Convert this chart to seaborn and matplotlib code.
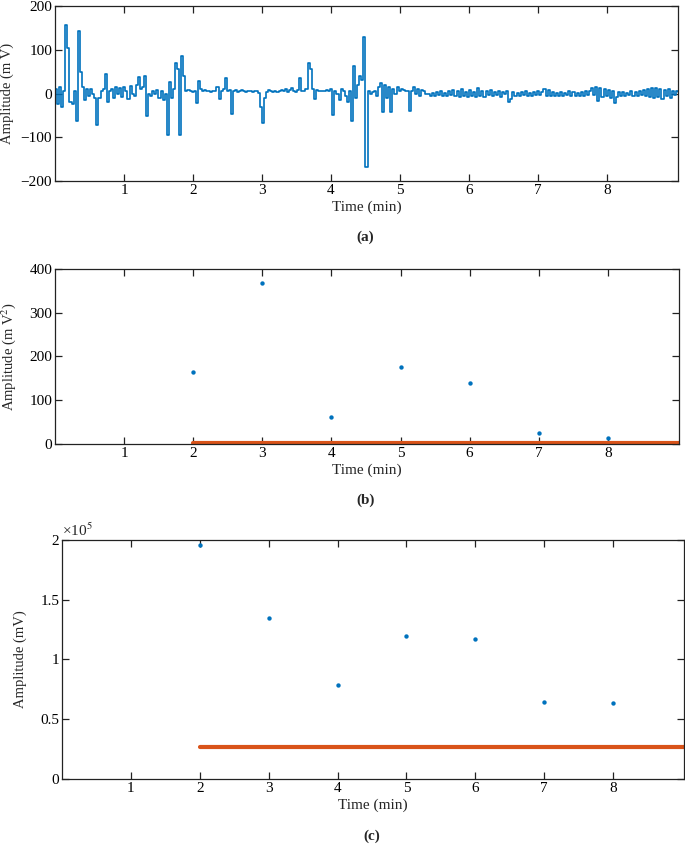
import numpy as np
import matplotlib
matplotlib.use('Agg')
import matplotlib.pyplot as plt
from matplotlib.ticker import FuncFormatter
import seaborn as sns
import pandas as pd

# ---- data ----
# (a) raw signal, one value every 0.03 min (10 values per row = 0.3 min)
sample_step = 0.03
amp_a = [
    10, -25, 15, -30, 5, 157, 104, -20, -25, 5,
    -62, 143, 50, 15, -15, 10, -5, 10, 0, -10,
    -72, -10, 5, 10, 44, -20, 5, 10, -10, 15,
    0, 12, -8, 15, 5, -12, 18, 0, -5, 20,
    38, 10, 15, 40, -51, 0, -5, 5, 0, 8,
    -10, 5, -15, 0, -95, 27, -10, 10, 69, 55,
    -95, 85, 40, 5, 8, 5, 3, 5, -22, 28,
    10, 5, 8, 5, 5, 3, 6, 5, 15, -12,
    5, 10, 36, 5, 8, -47, 5, 8, 3, 5,
    8, 5, 3, 6, 5, 4, 6, 5, 2, -30,
    -67, -10, 3, 8, 5, 3, 6, 4, 5, 8,
    5, 10, 3, 8, 12, 5, 3, 8, 35, 5,
    5, 10, 69, 55, 10, -12, 8, 5, 6, 5,
    5, 8, 5, 10, -48, 5, 0, -15, 10, 5,
    -5, -20, 5, -62, 63, -10, 20, 40, 32, 130,
    -167, 5, 0, 3, 5, -5, 15, 25, -42, 20,
    -10, 15, -42, 10, 0, 15, 5, 10, 8, 5,
    5, -40, 5, 15, 0, 10, -5, 8, 5, 0,
    0, -5, 2, -6, 3, -4, 5, -5, 2, -6,
    6, -4, 8, -6, 5, -8, 10, -5, 3, -7,
    9, -6, 4, -8, 12, -5, 6, -9, 5, -3,
    8, -6, 4, -3, 6, -8, 3, -2, 5, -20,
    -12, 4, -5, 2, -6, 3, -4, 5, -6, 2,
    -5, 3, -4, 6, -3, 4, 10, -5, 8, -6,
    4, -5, 2, -6, 3, -5, 2, -4, 5, -6,
    3, -5, 2, -6, 4, -5, 6, -3, 5, 12,
    -4, 16, -17, 12, -8, 10, -6, 8, -10, 5,
    -21, -8, 3, -5, 4, -6, 2, -4, 5, -6,
    4, -5, 6, -4, 8, -6, 10, -8, 12, -10,
    12, -9, 10, -12, 8, -6, 11, -10, 6, -4,
    5, 3,
]

# (b) and (c) per-minute values
minutes = [2, 3, 4, 5, 6, 7, 8]
power_b = [165, 367, 61, 177, 139, 25, 14]
amp_c = [1.96e5, 1.345e5, 0.789e5, 1.194e5, 1.174e5, 0.642e5, 0.634e5]

# threshold lines
thr_x = [2, 9.03]
thr_b = 3
thr_c = 0.265e5

x_ticks = [1, 2, 3, 4, 5, 6, 7, 8]
x_max = 9.03

blue = '#0072BD'
orange = '#D95319'

sns.set_theme(style='white')
plt.rcParams['font.family'] = ['Liberation Serif', 'DejaVu Serif']
plt.rcParams['mathtext.fontset'] = 'stix'
plt.rcParams['font.size'] = 11

fig = plt.figure(figsize=(6.85, 8.46), dpi=100)
ax_a = fig.add_axes([0.0803, 0.786, 0.9095, 0.2069])
ax_b = fig.add_axes([0.0803, 0.4752, 0.911, 0.2069])
ax_c = fig.add_axes([0.0905, 0.0792, 0.908, 0.2825])


def style_axes(ax, yticks):
    ax.set_xlim(0, x_max)
    ax.set_xticks(x_ticks)
    ax.set_yticks(yticks)
    ax.tick_params(direction='in', length=5, width=0.9, colors='#222222',
                   labelcolor='black', labelsize=11, pad=2,
                   top=True, right=True, bottom=True, left=True)
    for s in ax.spines.values():
        s.set_color('#222222')
        s.set_linewidth(0.9)
    ax.set_xlabel('Time (min)', fontsize=11, labelpad=3)


# (a) raw signal
df_a = pd.DataFrame({'t': np.arange(len(amp_a)) * sample_step, 'v': amp_a})
sns.lineplot(data=df_a, x='t', y='v', ax=ax_a, color=blue, linewidth=1.2,
             drawstyle='steps-post', estimator=None, sort=False)
ax_a.set_ylim(-200, 200)
style_axes(ax_a, [-200, -100, 0, 100, 200])
ax_a.set_ylabel('Amplitude (m V)', fontsize=10.5)
ax_a.yaxis.set_label_coords(-0.066, 0.5)

# (b)
df_b = pd.DataFrame({'t': minutes, 'v': power_b})
sns.lineplot(x=thr_x, y=[thr_b] * len(thr_x), ax=ax_b, color=orange, linewidth=3)
sns.scatterplot(data=df_b, x='t', y='v', ax=ax_b, color=blue, s=10,
                linewidth=0, zorder=3)
ax_b.set_ylim(0, 400)
style_axes(ax_b, [0, 100, 200, 300, 400])
ax_b.set_ylabel('Amplitude (m V$^2$)', fontsize=10.5)
ax_b.yaxis.set_label_coords(-0.060, 0.5)

# (c)
df_c = pd.DataFrame({'t': minutes, 'v': amp_c})
sns.lineplot(x=thr_x, y=[thr_c] * len(thr_x), ax=ax_c, color=orange, linewidth=3)
sns.scatterplot(data=df_c, x='t', y='v', ax=ax_c, color=blue, s=10,
                linewidth=0, zorder=3)
ax_c.set_ylim(0, 2e5)
style_axes(ax_c, [0, 0.5e5, 1e5, 1.5e5, 2e5])
ax_c.yaxis.set_major_formatter(FuncFormatter(lambda v, p: '%g' % (v / 1e5)))
ax_c.set_ylabel('Amplitude (mV)', fontsize=10.5)
ax_c.yaxis.set_label_coords(-0.056, 0.5)
ax_c.text(0.0, 1.005, '\u00d710$^5$', transform=ax_c.transAxes,
          ha='left', va='bottom', fontsize=11)

# panel tags
fig.text(0.533, 0.7199, '(a)', ha='center', va='center', fontsize=11, fontweight='bold')
fig.text(0.534, 0.409, '(b)', ha='center', va='center', fontsize=11, fontweight='bold')
fig.text(0.543, 0.0118, '(c)', ha='center', va='center', fontsize=11, fontweight='bold')

fig.savefig('out.png', dpi=100)
